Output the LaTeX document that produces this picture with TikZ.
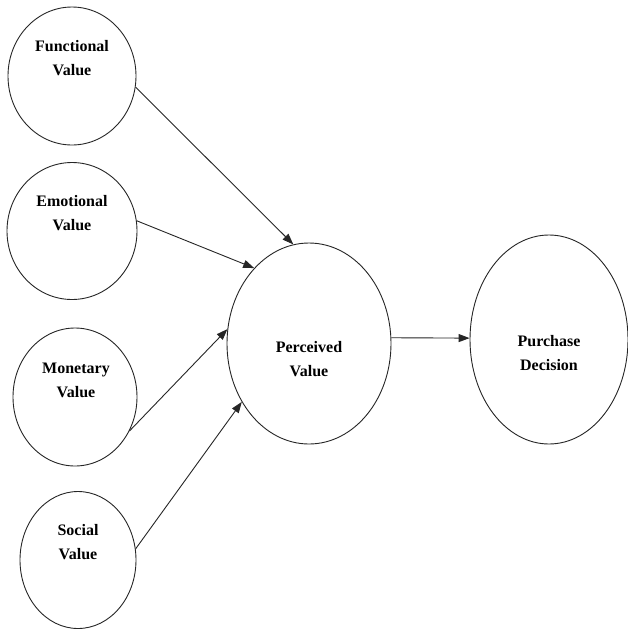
\documentclass[tikz,border=0pt]{standalone}
\usepackage{fontspec}
\setmainfont{Liberation Serif}
\usetikzlibrary{shapes.geometric,arrows.meta}
\begin{document}
\begin{tikzpicture}[x=1pt,y=-1pt,
  oval/.style={draw=black!85, ellipse, line width=0.9pt, inner sep=0pt},
  lbl/.style={font=\fontsize{16}{24}\selectfont\bfseries, align=center, inner sep=0pt},
  arr/.style={line width=0.9pt, draw=black!85, -{Triangle[length=11pt,width=8pt]}}]
\useasboundingbox (0,0) rectangle (628,630);
\fill[white] (0,0) rectangle (628,630);
\node[oval, minimum width=128pt, minimum height=138pt] (fv) at (72,76) {};
\node[oval, minimum width=130pt, minimum height=137pt] (ev) at (72,231) {};
\node[oval, minimum width=124pt, minimum height=138pt] (mv) at (75,397) {};
\node[oval, minimum width=116pt, minimum height=137pt] (sv) at (78,560) {};
\node[oval, minimum width=164pt, minimum height=201pt] (pv) at (309,343.5) {};
\node[oval, minimum width=158pt, minimum height=209pt] (pd) at (549,339.5) {};
\node[lbl] (fvt) at (72,58) {Functional\\Value};
\node[lbl] (evt) at (72,213) {Emotional\\Value};
\node[lbl] (mvt) at (76,380) {Monetary\\Value};
\node[lbl] (svt) at (78,542) {Social\\Value};
\node[lbl] (pvt) at (309,359) {Perceived\\Value};
\node[lbl] (pdt) at (549,353) {Purchase\\Decision};
\draw[arr] (fv.-10.6) -- (pv.99);
\draw[arr] (ev.9.6) -- (pv.126);
\draw[arr] (mv.-32) -- (pv.170);
\draw[arr] (sv.11.7) -- (pv.221.6);
\draw[arr] (pv.4.5) -- (pd.179);
\end{tikzpicture}
\end{document}
